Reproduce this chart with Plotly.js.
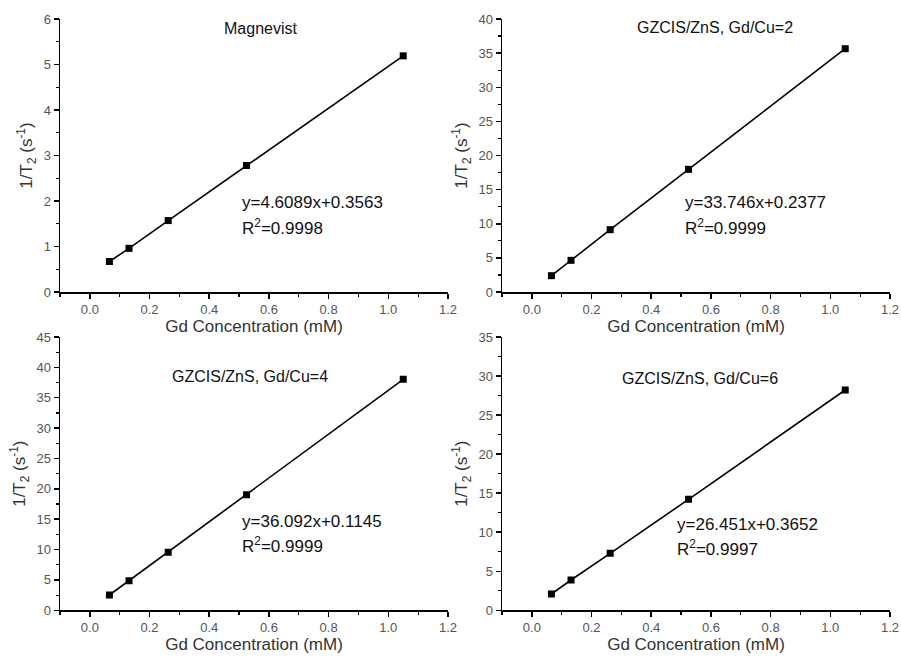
<!DOCTYPE html>
<html>
<head>
<meta charset="utf-8">
<script src="https://cdn.plot.ly/plotly-3.0.1.min.js"></script>
<style>html,body{margin:0;padding:0;background:#fff;}#chart{width:901px;height:659px;}</style>
</head>
<body>
<div id="chart"></div>
<script>
// Gd concentration (mM)
const concentration = [0.065625, 0.13125, 0.2625, 0.525, 1.05];
// 1/T2 (s^-1) for each sample
const magnevist = [0.67, 0.96, 1.57, 2.78, 5.19];
const gdcu2 = [2.39, 4.64, 9.13, 17.97, 35.65];
const gdcu4 = [2.52, 4.88, 9.55, 19.04, 38.03];
const gdcu6 = [2.09, 3.88, 7.30, 14.21, 28.21];
const panelTitles = ["Magnevist", "GZCIS/ZnS, Gd/Cu=2", "GZCIS/ZnS, Gd/Cu=4", "GZCIS/ZnS, Gd/Cu=6"];
const fitEquations = ["y=4.6089x+0.3563", "y=33.746x+0.2377", "y=36.092x+0.1145", "y=26.451x+0.3652"];
const rSquared = ["R<sup>2</sup>=0.9998", "R<sup>2</sup>=0.9999", "R<sup>2</sup>=0.9999", "R<sup>2</sup>=0.9997"];
const yMax = [6, 40, 45, 35];
const yStep = [1, 5, 5, 5];

const series = [magnevist, gdcu2, gdcu4, gdcu6];
const W = 901, H = 659;
const px = x => x / W;
const py = y => 1 - y / H;

// panel pixel boxes: [left, right, top, bottom]
const boxes = [[60, 448, 19, 292], [502, 890, 19, 292], [60, 448, 337, 610.3], [502, 890, 337, 610.3]];
const titlePos = [[260, 29], [715, 28], [250, 376], [700, 378]];
const eqPos = [[240, 202, 227], [683, 202, 227], [240, 521, 545], [675, 524, 548]];

const FONT = "Liberation Sans, Arial, sans-serif";
const data = [];
const layout = {
  width: W, height: H,
  margin: {l: 0, r: 0, t: 0, b: 0},
  paper_bgcolor: "#fff", plot_bgcolor: "#fff",
  showlegend: false,
  font: {family: FONT, color: "#000"},
  annotations: []
};

series.forEach((ys, i) => {
  const n = i === 0 ? "" : String(i + 1);
  data.push({
    x: concentration, y: ys, xaxis: "x" + n, yaxis: "y" + n,
    type: "scatter", mode: "lines+markers",
    line: {color: "#000", width: 1.6},
    marker: {symbol: "square", size: 7, color: "#000"},
    hoverinfo: "x+y"
  });
  const b = boxes[i];
  layout["xaxis" + n] = {
    domain: [px(b[0]), px(b[1])], anchor: "y" + n,
    range: [-0.1, 1.2], tick0: 0, dtick: 0.2, tickformat: ".1f",
    showline: true, linecolor: "#000", linewidth: 1.5,
    ticks: "outside", ticklen: 5, tickwidth: 1.5, tickcolor: "#000",
    minor: {dtick: 0.1, tick0: 0, ticks: "outside", ticklen: 3, tickwidth: 1.2, tickcolor: "#000"},
    showgrid: false, zeroline: false, fixedrange: true,
    tickfont: {family: FONT, size: 13, color: "#555"},
    title: {text: "Gd Concentration (mM)", font: {family: FONT, size: 17, color: "#333"}, standoff: 3},
    automargin: false
  };
  layout["yaxis" + n] = {
    domain: [py(b[3]), py(b[2])], anchor: "x" + n,
    range: [0, yMax[i]], tick0: 0, dtick: yStep[i],
    showline: true, linecolor: "#000", linewidth: 1.5,
    ticks: "outside", ticklen: 5, tickwidth: 1.5, tickcolor: "#000",
    minor: {dtick: yStep[i] / 2, tick0: 0, ticks: "outside", ticklen: 3, tickwidth: 1.2, tickcolor: "#000"},
    showgrid: false, zeroline: false, fixedrange: true,
    tickfont: {family: FONT, size: 13, color: "#555"},
    title: {text: "1/T<sub>2</sub> (s<sup>-1</sup>)", font: {family: FONT, size: 17, color: "#333"}, standoff: 6},
    automargin: false
  };
  layout.annotations.push({
    xref: "paper", yref: "paper", x: px(titlePos[i][0]), y: py(titlePos[i][1]),
    xanchor: "center", yanchor: "middle", showarrow: false,
    text: panelTitles[i], font: {family: FONT, size: 16, color: "#111"}
  });
  layout.annotations.push({
    xref: "paper", yref: "paper", x: px(eqPos[i][0]), y: py(eqPos[i][1]),
    xanchor: "left", yanchor: "middle", showarrow: false,
    text: fitEquations[i], font: {family: FONT, size: 17, color: "#111"}
  });
  layout.annotations.push({
    xref: "paper", yref: "paper", x: px(eqPos[i][0]), y: py(eqPos[i][2]),
    xanchor: "left", yanchor: "middle", showarrow: false,
    text: rSquared[i], font: {family: FONT, size: 17, color: "#111"}
  });
});

Plotly.newPlot("chart", data, layout, {staticPlot: true, displayModeBar: false});
</script>
</body>
</html>
